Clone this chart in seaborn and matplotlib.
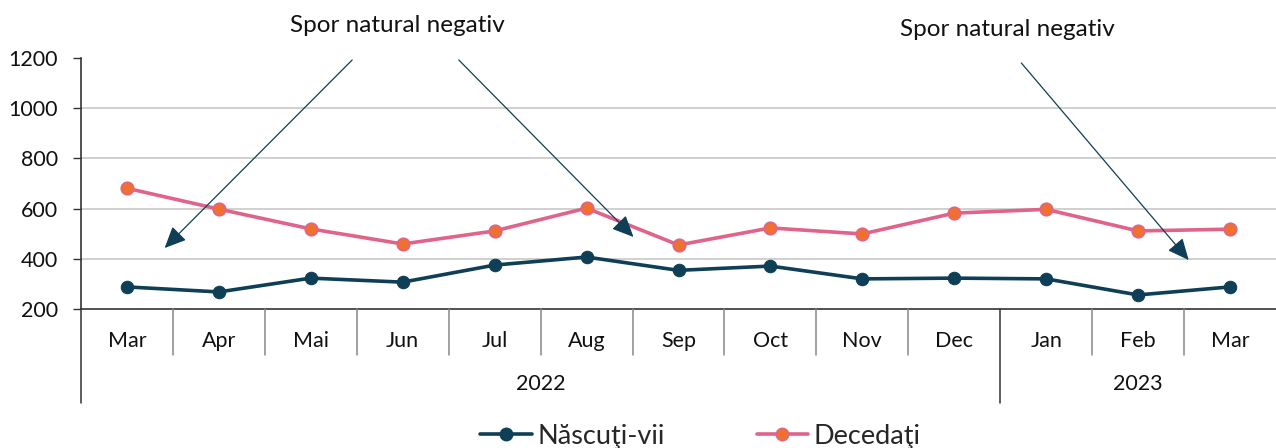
import matplotlib
matplotlib.use("Agg")
import matplotlib.pyplot as plt
import matplotlib.transforms as mtransforms
import seaborn as sns
import pandas as pd
from matplotlib.lines import Line2D

months = ["Mar", "Apr", "Mai", "Jun", "Jul", "Aug", "Sep", "Oct", "Nov", "Dec", "Jan", "Feb", "Mar"]
years = ["2022", "2023"]
year_spans = [(0, 10), (10, 13)]  # month index ranges per year
nascuti = [288, 268, 323, 307, 375, 407, 354, 371, 320, 323, 320, 256, 288]
decedati = [681, 598, 519, 459, 511, 602, 455, 523, 499, 582, 597, 511, 518]
series_names = ["Născuţi-vii", "Decedaţi"]
annot_text = "Spor natural negativ"

sns.set_theme(style="white")
plt.rcParams["font.family"] = ["Lato", "DejaVu Sans"]

C_NASC = "#0e3f57"
C_DEC_LINE = "#e0638a"
C_DEC_MARK = "#f07030"
FS = 15.5

fig = plt.figure(figsize=(12.76, 4.48), dpi=100)
ax = fig.add_axes([81 / 1276, 1 - 309 / 448, (1276 - 81) / 1276, (309 - 58) / 448])

idx = list(range(len(months)))
df = pd.DataFrame({"x": idx, "n": nascuti, "d": decedati})

sns.lineplot(data=df, x="x", y="n", ax=ax, color=C_NASC, linewidth=2.6, marker="o",
             markersize=9, markerfacecolor=C_NASC, markeredgecolor=C_NASC, sort=False, zorder=3)
sns.lineplot(data=df, x="x", y="d", ax=ax, color=C_DEC_LINE, linewidth=2.6, marker="o",
             markersize=9, markerfacecolor=C_DEC_MARK, markeredgecolor=C_DEC_LINE,
             markeredgewidth=1.2, sort=False, zorder=3)

ax.set_xlim(-0.5, len(months) - 0.5)
ax.set_ylim(200, 1200)
ax.set_yticks([200, 400, 600, 800, 1000, 1200])
ax.set_yticklabels(["200", "400", "600", "800", "1000", "1200"], fontsize=FS, color="#111111")
ax.tick_params(axis="y", which="both", left=True, length=6, width=1, color="#333333", pad=10.5)
for v in [400, 600, 800, 1000]:
    ax.axhline(v, color="#c8c8c8", linewidth=1.2, zorder=0)
ax.set_xticks([])
ax.set_xlabel("")
ax.set_ylabel("")
for s in ["top", "right"]:
    ax.spines[s].set_visible(False)
ax.spines["left"].set_color("#333333")
ax.spines["bottom"].set_color("#333333")
ax.spines["left"].set_linewidth(1.2)
ax.spines["bottom"].set_linewidth(1.2)

# category axis drawn below
trans = mtransforms.blended_transform_factory(ax.transData, fig.transFigure)
y_axis = 1 - 309 / 448
y_short = 1 - 355 / 448
y_long = 1 - 403 / 448
y_month = 1 - 341 / 448
y_year = 1 - 384 / 448
for i, m in enumerate(months):
    fig.text(i, y_month, m, transform=trans, ha="center", va="center", fontsize=FS, color="#111111")
long_bounds = {0, 10}
for k in range(len(months)):
    xb = k - 0.5
    y1 = y_long if k in long_bounds else y_short
    col = "#333333" if k in long_bounds else "#888888"
    fig.add_artist(Line2D([xb, xb], [y_axis, y1], transform=trans, color=col, linewidth=1.1))
for yname, (a, b) in zip(years, year_spans):
    fig.text((a + b - 1) / 2, y_year, yname, transform=trans, ha="center", va="center",
             fontsize=FS, color="#111111")

# annotations
arrowprops = dict(arrowstyle="-|>,head_length=1.1,head_width=0.5", color=C_NASC, linewidth=0.9,
                  shrinkA=0, shrinkB=0)
ax.annotate("", xy=(0.41, 443), xytext=(2.45, 1192), xycoords="data", textcoords="data",
            arrowprops=arrowprops, annotation_clip=False)
ax.annotate("", xy=(5.51, 487), xytext=(3.61, 1192), xycoords="data", textcoords="data",
            arrowprops=arrowprops, annotation_clip=False)
ax.annotate("", xy=(11.55, 395), xytext=(9.73, 1180), xycoords="data", textcoords="data",
            arrowprops=arrowprops, annotation_clip=False)
fig.text(397 / 1276, 1 - 25 / 448, annot_text, ha="center", va="center", fontsize=17.5, color="#111111")
fig.text(1007 / 1276, 1 - 30 / 448, annot_text, ha="center", va="center", fontsize=17.5, color="#111111")

# legend
handles = [
    Line2D([], [], color=C_NASC, linewidth=2.6, marker="o", markersize=9,
           markerfacecolor=C_NASC, markeredgecolor=C_NASC),
    Line2D([], [], color=C_DEC_LINE, linewidth=2.6, marker="o", markersize=9,
           markerfacecolor=C_DEC_MARK, markeredgecolor=C_DEC_LINE),
]
fig.legend(handles, series_names, loc="center", bbox_to_anchor=(0.549, 1 - 436 / 448), ncol=2,
           frameon=False, fontsize=19.5, handlelength=1.9, handletextpad=0.2, columnspacing=3.4)

fig.savefig("out.png", dpi=100)
